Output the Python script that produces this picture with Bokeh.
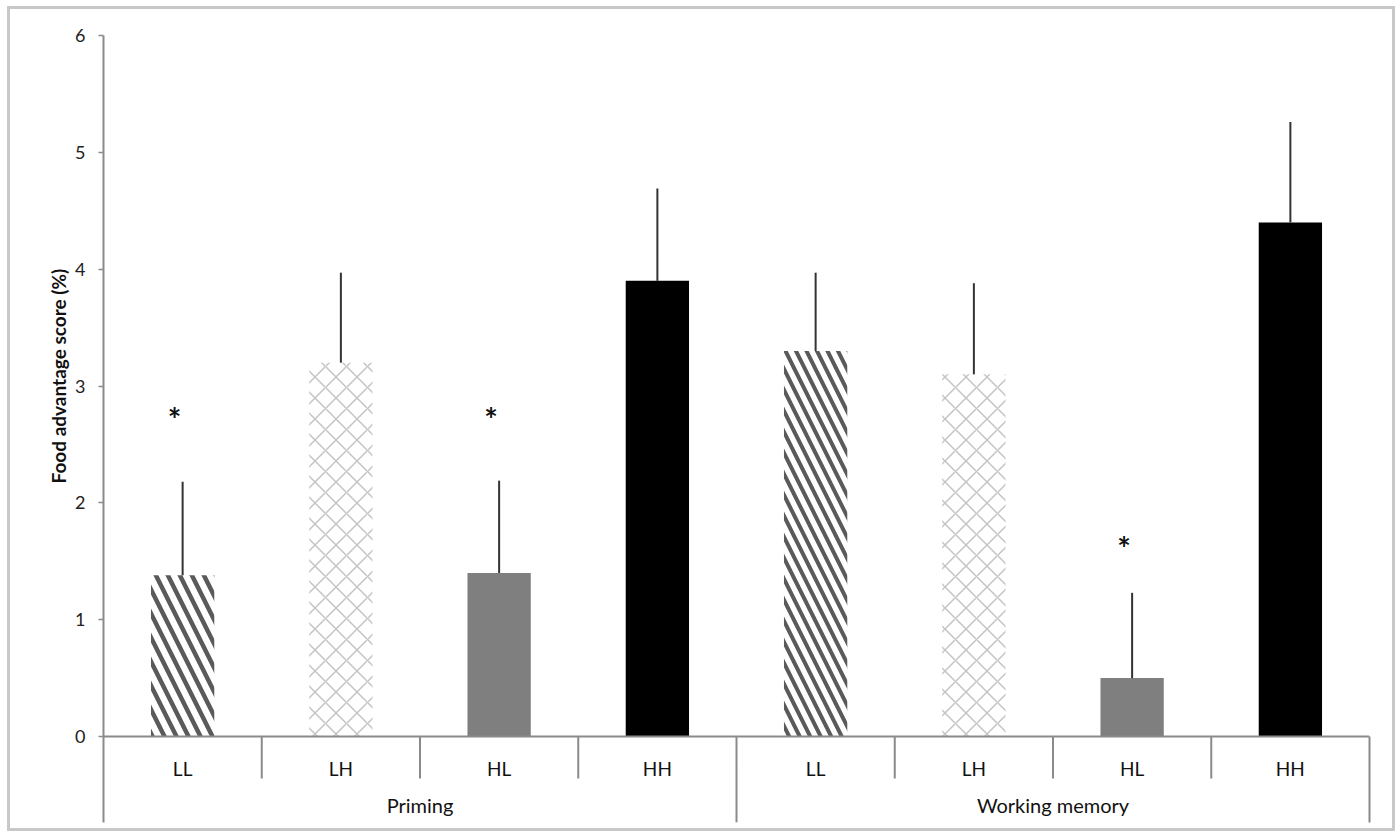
from bokeh.plotting import figure
from bokeh.layouts import column
from bokeh.models import FactorRange, Range1d, FixedTicker, LinearAxis, ColumnDataSource, Span, Title
from bokeh.core.properties import value
from bokeh.embed import file_html
from bokeh.resources import INLINE

# ---- data ----
groups = ["Priming", "Working memory"]
conditions = ["LL", "LH", "HL", "HH"]
priming_means = [1.38, 3.20, 1.40, 3.90]
priming_err_top = [2.18, 3.97, 2.19, 4.69]
wm_means = [3.30, 3.10, 0.50, 4.40]
wm_err_top = [3.97, 3.88, 1.23, 5.26]
star_group = ["Priming", "Priming", "Working memory"]
star_cond = ["LL", "HL", "HL"]
star_y = [2.75, 2.75, 1.64]
y_ticks = [0, 1, 2, 3, 4, 5, 6]
y_label = "Food advantage score (%)"

FONT = "Lato"
AXIS_GRAY = "#8a8a8a"
Y_BOTTOM = -0.736      # depth of the category table below zero
CAT_Y = -0.27
GRP_Y = -0.59
SHORT_SEP = -0.36

factors = [(g, c) for g in groups for c in conditions]
means = priming_means + wm_means
err_top = priming_err_top + wm_err_top

fills = {"LL": "white", "LH": "white", "HL": "#7f7f7f", "HH": "#000000"}
hatches = {"LL": "\\", "LH": "x", "HL": " ", "HH": " "}
hatch_colors = {"LL": "#5a5a5a", "LH": "#c4c4c4", "HL": "#7f7f7f", "HH": "#000000"}
hatch_weights = {("Priming", "LL"): 4.5, ("Working memory", "LL"): 4.0}
default_weight = 1.5
hatch_scales = {("Priming", "LL"): 24, ("Working memory", "LL"): 21}
default_scale = 21

src = ColumnDataSource(dict(
    x=factors,
    top=means,
    etop=err_top,
    fill=[fills[c] for _, c in factors],
    hatch=[hatches[c] for _, c in factors],
    hcol=[hatch_colors[c] for _, c in factors],
    hw=[hatch_weights.get(f, default_weight) for f in factors],
    hs=[hatch_scales.get(f, default_scale) for f in factors],
))

x_range = FactorRange(*factors, range_padding=0, group_padding=0, factor_padding=0)

p = figure(x_range=x_range, y_range=Range1d(Y_BOTTOM, 6), width=1382, height=819,
           output_backend="svg", toolbar_location=None, x_axis_type=None,
           min_border_left=93, min_border_right=23, min_border_top=26, min_border_bottom=6)
p.outline_line_color = None
p.xgrid.grid_line_color = None
p.ygrid.grid_line_color = None
p.background_fill_color = "white"
p.border_fill_color = "white"

p.vbar(x="x", top="top", bottom=0, width=0.4, source=src, fill_color="fill", line_color=None,
       hatch_pattern="hatch", hatch_color="hcol", hatch_weight="hw", hatch_scale="hs")
p.segment(x0="x", y0="top", x1="x", y1="etop", source=src, line_color="#333333", line_width=2)

star_src = ColumnDataSource(dict(x=list(zip(star_group, star_cond)), y=star_y,
                                 t=["*"] * len(star_y)))
p.text(x="x", y="y", text="t", source=star_src, text_align="center", text_baseline="middle",
       x_offset=-8, y_offset=4, text_font=value(FONT), text_font_style="bold",
       text_font_size="32px", text_color="#111111")

# y axis
yax = p.yaxis[0]
yax.ticker = FixedTicker(ticks=y_ticks)
yax.axis_line_color = AXIS_GRAY
yax.axis_line_width = 2
yax.major_tick_line_color = AXIS_GRAY
yax.major_tick_line_width = 1.5
yax.major_tick_in = 0
yax.major_tick_out = 5
yax.minor_tick_line_color = None
yax.major_label_text_font = FONT
yax.major_label_text_font_size = "18px"
yax.major_label_text_color = "#222222"
yax.major_label_standoff = 13

# y axis title, anchored along the 0..6 part of the axis
p.add_layout(Title(text=y_label, align="left", offset=339, standoff=6,
                   text_font=FONT, text_font_style="bold", text_font_size="19px",
                   text_color="#111111"), "left")

# category table below zero
p.add_layout(Span(location=0, dimension="width", line_color=AXIS_GRAY, line_width=2))
right_ax = LinearAxis(ticker=FixedTicker(ticks=[]), bounds=(Y_BOTTOM, 0),
                      axis_line_color=AXIS_GRAY, axis_line_width=2,
                      major_tick_line_color=None, minor_tick_line_color=None,
                      major_label_text_font_size="0px", major_label_standoff=0)
p.add_layout(right_ax, "right")

short_x = [(g, c, -0.5) for g in groups for c in conditions if c != conditions[0]]
long_x = [(groups[1], conditions[0], -0.5)]
p.segment(x0=short_x, y0=[0] * len(short_x), x1=short_x, y1=[SHORT_SEP] * len(short_x),
          line_color=AXIS_GRAY, line_width=2)
p.segment(x0=long_x, y0=[0], x1=long_x, y1=[Y_BOTTOM], line_color=AXIS_GRAY, line_width=2)

lab_src = ColumnDataSource(dict(x=factors, y=[CAT_Y] * len(factors), t=[c for _, c in factors]))
p.text(x="x", y="y", text="t", source=lab_src, text_align="center", text_baseline="middle",
       text_font=value(FONT), text_font_size="19px", text_color="#111111")
grp_src = ColumnDataSource(dict(x=[(g, conditions[1], 0.5) for g in groups],
                                y=[GRP_Y] * len(groups), t=groups))
p.text(x="x", y="y", text="t", source=grp_src, text_align="center", text_baseline="middle",
       text_font=value(FONT), text_font_size="20px", text_color="#111111")

layout = column(p, styles={"border": "3px solid #c8c8c8", "margin-left": "7px", "margin-top": "6px"})

open("out.html", "w").write(file_html(layout, INLINE))
